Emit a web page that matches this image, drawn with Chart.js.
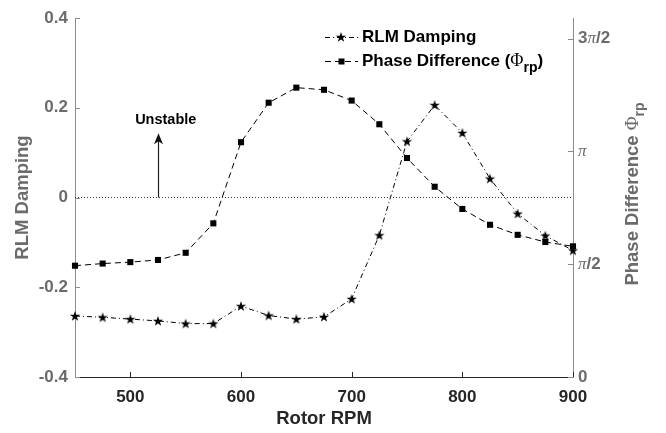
<!DOCTYPE html>
<html>
<head>
<meta charset="utf-8">
<script src="https://cdn.jsdelivr.net/npm/chart.js@4.4.1/dist/chart.umd.min.js"></script>
<style>
  html, body { margin: 0; padding: 0; background: #fff; }
  #wrap { width: 666px; height: 433px; }
</style>
</head>
<body>
<div id="wrap"><canvas id="chart" width="666" height="433"></canvas></div>
<script>
// data
const rpm = [450, 475, 500, 525, 550, 575, 600, 625, 650, 675, 700, 725, 750, 775, 800, 825, 850, 875, 900];
const damping = [-0.264, -0.267, -0.271, -0.275, -0.281, -0.281, -0.242, -0.263, -0.271, -0.266,
                 -0.226, -0.084, 0.125, 0.206, 0.144, 0.042, -0.036, -0.085, -0.118];
// phase difference in radians (right axis)
const phase = [1.55, 1.58, 1.60, 1.63, 1.73, 2.14, 3.27, 3.82, 4.03, 4.00,
               3.85, 3.52, 3.05, 2.65, 2.34, 2.12, 1.98, 1.88, 1.82];

const xTicks = [500, 600, 700, 800, 900];
const leftTicks = [-0.4, -0.2, 0, 0.2, 0.4];
const rightTicks = [0, Math.PI / 2, Math.PI, 3 * Math.PI / 2];
const rightTickLabels = ['0', 'π/2', 'π', '3π/2'];

const zeroLineX = [450, 900];
const arrowX = 525;
const arrowTop = 0.143;
const unstableLabel = { x: 532, y: 0.172, text: 'Unstable' };

const GRAY = '#6b6b6b';
const AXIS_GRAY = '#8c8c8c';
const DARK = '#262626';
const SANS = '"Liberation Sans", Arial, sans-serif';
const SERIF = '"Liberation Serif", "DejaVu Serif", serif';

// filled five point star like matlab's pentagram
const starImg = (() => {
  const c = document.createElement('canvas');
  c.width = c.height = 12;
  const g = c.getContext('2d');
  g.beginPath();
  for (let i = 0; i < 10; i++) {
    const r = i % 2 ? 2.1 : 5.4;
    const a = -Math.PI / 2 + i * Math.PI / 5;
    g.lineTo(6 + r * Math.cos(a), 6.4 + r * Math.sin(a));
  }
  g.closePath();
  g.fillStyle = '#000';
  g.fill();
  return c;
})();

const DASH_DOT = [5, 3, 1, 3];
const DASHED = [6, 4];

function drawParts(ctx, parts, x, y) {
  let cx = x;
  parts.forEach(p => {
    ctx.font = p.font;
    ctx.fillText(p.t, cx, y + (p.dy || 0));
    cx += ctx.measureText(p.t).width;
  });
}

function partsWidth(ctx, parts) {
  let w = 0;
  parts.forEach(p => { ctx.font = p.font; w += ctx.measureText(p.t).width; });
  return w;
}

const decorPlugin = {
  id: 'decor',
  afterDatasetsDraw(chart) {
    const { ctx, scales } = chart;
    const x = scales.x, y = scales.y, y2 = scales.y2;
    const area = chart.chartArea;
    ctx.save();

    // inward tick marks
    ctx.lineWidth = 1;
    ctx.strokeStyle = AXIS_GRAY;
    leftTicks.forEach(v => {
      const py = Math.round(y.getPixelForValue(v)) + 0.5;
      ctx.beginPath(); ctx.moveTo(area.left, py); ctx.lineTo(area.left + 5, py); ctx.stroke();
    });
    rightTicks.forEach(v => {
      const py = Math.round(y2.getPixelForValue(v)) + 0.5;
      ctx.beginPath(); ctx.moveTo(area.right, py); ctx.lineTo(area.right - 5, py); ctx.stroke();
    });
    ctx.strokeStyle = DARK;
    xTicks.forEach(v => {
      const px = Math.round(x.getPixelForValue(v)) + 0.5;
      ctx.beginPath(); ctx.moveTo(px, area.bottom); ctx.lineTo(px, area.bottom - 5); ctx.stroke();
    });

    // right tick labels, pi in italic serif
    ctx.fillStyle = GRAY;
    ctx.textBaseline = 'middle';
    ctx.textAlign = 'left';
    rightTicks.forEach((v, i) => {
      const parts = rightTickLabels[i].split(/(π)/).filter(s => s).map(s => ({
        t: s,
        font: s === 'π' ? 'italic 17px ' + SERIF : 'bold 17px ' + SANS
      }));
      drawParts(ctx, parts, area.right + 5, y2.getPixelForValue(v));
    });

    // right axis title
    ctx.save();
    ctx.translate(633, 194);
    ctx.rotate(-Math.PI / 2);
    const tParts = [
      { t: 'Phase Difference ', font: 'bold 18.5px ' + SANS },
      { t: 'Φ', font: '19px ' + SERIF },
      { t: 'rp', font: 'bold 14px ' + SANS, dy: 7 }
    ];
    drawParts(ctx, tParts, -partsWidth(ctx, tParts) / 2, 0);
    ctx.restore();

    // arrow + "Unstable"
    const ax = Math.round(x.getPixelForValue(arrowX)) + 0.5;
    const ay0 = y.getPixelForValue(0);
    const ay1 = y.getPixelForValue(arrowTop);
    ctx.strokeStyle = '#222';
    ctx.lineWidth = 1.2;
    ctx.beginPath(); ctx.moveTo(ax, ay0); ctx.lineTo(ax, ay1 + 6); ctx.stroke();
    ctx.fillStyle = '#111';
    ctx.beginPath();
    ctx.moveTo(ax, ay1);
    ctx.lineTo(ax + 4.5, ay1 + 11);
    ctx.lineTo(ax, ay1 + 8);
    ctx.lineTo(ax - 4.5, ay1 + 11);
    ctx.closePath();
    ctx.fill();

    ctx.fillStyle = '#000';
    ctx.font = 'bold 14.5px ' + SANS;
    ctx.textAlign = 'center';
    ctx.fillText(unstableLabel.text, x.getPixelForValue(unstableLabel.x), y.getPixelForValue(unstableLabel.y));

    // legend
    ctx.textAlign = 'left';
    const rows = [
      { yy: 37, dash: DASH_DOT, mark: 'star', parts: [{ t: 'RLM Damping', font: 'bold 17px ' + SANS }] },
      { yy: 61, dash: DASHED, mark: 'rect', parts: [
        { t: 'Phase Difference (', font: 'bold 17px ' + SANS },
        { t: 'Φ', font: '18px ' + SERIF },
        { t: 'rp', font: 'bold 14px ' + SANS, dy: 7 },
        { t: ')', font: 'bold 17px ' + SANS }
      ] }
    ];
    rows.forEach(r => {
      ctx.strokeStyle = '#000';
      ctx.lineWidth = 1;
      ctx.setLineDash(r.dash);
      ctx.beginPath(); ctx.moveTo(325, r.yy + 0.5); ctx.lineTo(358, r.yy + 0.5); ctx.stroke();
      ctx.setLineDash([]);
      if (r.mark === 'star') {
        ctx.drawImage(starImg, 341 - 6, r.yy - 6);
      } else {
        ctx.fillStyle = '#000';
        ctx.fillRect(338.5, r.yy - 2.5, 6, 6);
      }
      ctx.fillStyle = '#000';
      drawParts(ctx, r.parts, 362, r.yy);
    });

    ctx.restore();
  }
};

const ctx = document.getElementById('chart').getContext('2d');

new Chart(ctx, {
  type: 'line',
  data: {
    datasets: [
      {
        label: 'zero',
        data: zeroLineX.map(v => ({ x: v, y: 0 })),
        yAxisID: 'y',
        borderColor: '#333',
        borderWidth: 1,
        borderDash: [1, 2],
        pointRadius: 0
      },
      {
        label: 'Phase Difference',
        data: rpm.map((r, i) => ({ x: r, y: phase[i] })),
        yAxisID: 'y2',
        borderColor: '#000',
        borderWidth: 1,
        borderDash: DASHED,
        pointStyle: 'rect',
        pointRadius: 4.3,
        pointBackgroundColor: '#000',
        pointBorderWidth: 0,
        clip: false
      },
      {
        label: 'RLM Damping',
        data: rpm.map((r, i) => ({ x: r, y: damping[i] })),
        yAxisID: 'y',
        borderColor: '#000',
        borderWidth: 1,
        borderDash: DASH_DOT,
        pointStyle: starImg,
        clip: false
      }
    ]
  },
  options: {
    responsive: false,
    animation: false,
    devicePixelRatio: 1,
    layout: { padding: { top: 18, left: 0, right: 0, bottom: 0 } },
    plugins: { legend: { display: false }, tooltip: { enabled: false } },
    scales: {
      x: {
        type: 'linear',
        min: 450,
        max: 900,
        afterBuildTicks: s => { s.ticks = xTicks.map(v => ({ value: v })); },
        afterFit: s => { s.height = 56; },
        grid: { display: false, drawTicks: false },
        border: { display: true, color: DARK, width: 1 },
        ticks: { color: DARK, font: { family: SANS, size: 17, weight: 'bold' }, padding: 10, maxRotation: 0 },
        title: { display: true, text: 'Rotor RPM', color: DARK, font: { family: SANS, size: 18.5, weight: 'bold' }, padding: { top: 0, bottom: 3 } }
      },
      y: {
        type: 'linear',
        position: 'left',
        min: -0.4,
        max: 0.4,
        afterBuildTicks: s => { s.ticks = leftTicks.map(v => ({ value: v })); },
        afterFit: s => { s.width = 75; },
        grid: { display: false, drawTicks: false },
        border: { display: true, color: AXIS_GRAY, width: 1 },
        ticks: { color: GRAY, font: { family: SANS, size: 17, weight: 'bold' }, padding: 7,
                 callback: v => (v === 0 ? '0' : String(v)) },
        title: { display: true, text: 'RLM Damping', color: GRAY, font: { family: SANS, size: 18.5, weight: 'bold' }, padding: { top: 12, bottom: 0 } }
      },
      y2: {
        type: 'linear',
        position: 'right',
        min: 0,
        max: 5,
        afterBuildTicks: s => { s.ticks = rightTicks.map(v => ({ value: v })); },
        afterFit: s => { s.width = 93; },
        grid: { display: false, drawTicks: false },
        border: { display: true, color: AXIS_GRAY, width: 1 },
        ticks: { display: false }
      }
    }
  },
  plugins: [decorPlugin]
});
</script>
</body>
</html>
